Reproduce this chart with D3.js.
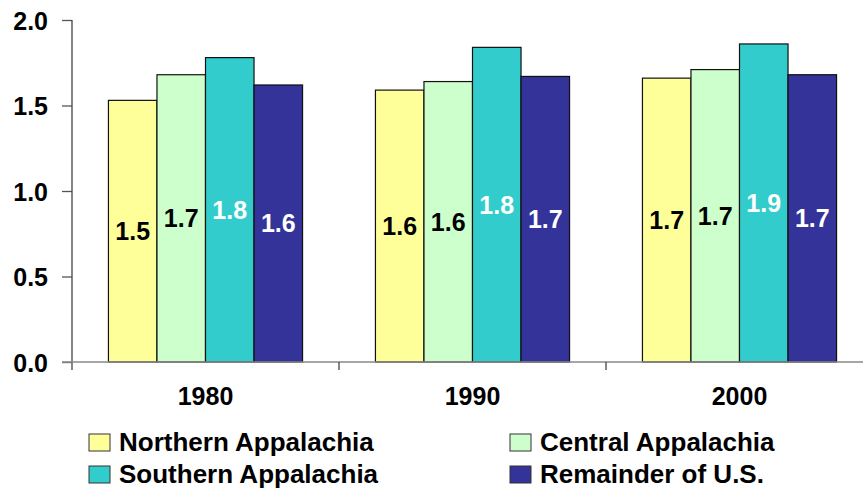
<!DOCTYPE html>
<html lang="en">
<head>
<meta charset="utf-8">
<script src="https://d3js.org/d3.v7.min.js"></script>
<style>
  body { margin: 0; background: #fff; }
  text { font-family: "Liberation Sans", Arial, sans-serif; font-weight: bold; }
</style>
</head>
<body>
<script>
// data
var years = ["1980", "1990", "2000"];
var seriesNames = ["Northern Appalachia", "Central Appalachia", "Southern Appalachia", "Remainder of U.S."];
var northern = [1.53, 1.59, 1.66];
var central = [1.68, 1.64, 1.71];
var southern = [1.78, 1.84, 1.86];
var remainder = [1.62, 1.67, 1.68];
var yTicks = [0, 0.5, 1.0, 1.5, 2.0];

var colors = ["#FFFF99", "#CCFFCC", "#33CCCC", "#333399"];
var labelColors = ["#000", "#000", "#fff", "#fff"];
var allSeries = [northern, central, southern, remainder];

var width = 863, height = 491;
var svg = d3.select("body").append("svg")
  .attr("width", width)
  .attr("height", height);

// scales
var y = d3.scaleLinear().domain([0, 2]).range([362, 20]);
var x = d3.scaleBand().domain(years).range([72, 873])
  .paddingInner(0.273).paddingOuter(0.1365);
var x1 = d3.scaleBand().domain(d3.range(4)).range([0, x.bandwidth()]);

// y axis
var yAxis = svg.append("g").attr("transform", "translate(72,0)")
  .call(d3.axisLeft(y).tickValues(yTicks).tickFormat(d3.format(".1f")).tickSize(10).tickPadding(14));
yAxis.select(".domain").remove();
yAxis.selectAll(".tick line").attr("stroke", "#555").attr("stroke-width", 1.3);
yAxis.selectAll(".tick text").attr("font-size", 25).attr("fill", "#000")
  .attr("font-family", "Liberation Sans, Arial, sans-serif").attr("dy", "0.36em");

// bars
var groups = svg.selectAll("g.year").data(years).enter().append("g")
  .attr("class", "year")
  .attr("transform", function(d) { return "translate(" + x(d) + ",0)"; });

groups.each(function(yr, i) {
  var g = d3.select(this);
  allSeries.forEach(function(s, k) {
    g.append("rect")
      .attr("x", x1(k))
      .attr("y", y(s[i]))
      .attr("width", x1.bandwidth())
      .attr("height", y(0) - y(s[i]))
      .attr("fill", colors[k])
      .attr("stroke", "#111")
      .attr("stroke-width", 1.2);
  });
  allSeries.forEach(function(s, k) {
    g.append("text")
      .attr("x", x1(k) + x1.bandwidth() / 2)
      .attr("y", (y(s[i]) + y(0)) / 2)
      .attr("dy", "0.36em")
      .attr("text-anchor", "middle")
      .attr("font-size", 25)
      .attr("fill", labelColors[k])
      .text(s[i].toFixed(1));
  });
});

// axis lines
svg.append("line").attr("x1", 72).attr("x2", 72).attr("y1", 20).attr("y2", 370)
  .attr("stroke", "#444").attr("stroke-width", 1.3);
svg.append("line").attr("x1", 62).attr("x2", width).attr("y1", y(0)).attr("y2", y(0))
  .attr("stroke", "#888").attr("stroke-width", 1.6);

var gap = (x.step() - x.bandwidth()) / 2;
years.slice(1).forEach(function(yr) {
  var bx = x(yr) - gap;
  svg.append("line").attr("x1", bx).attr("x2", bx).attr("y1", y(0)).attr("y2", 370)
    .attr("stroke", "#444").attr("stroke-width", 1.3);
});

// year labels
svg.selectAll("text.yr").data(years).enter().append("text")
  .attr("class", "yr")
  .attr("x", function(d) { return x(d) + x.bandwidth() / 2; })
  .attr("y", 405)
  .attr("text-anchor", "middle")
  .attr("font-size", 25)
  .text(function(d) { return d; });

// legend
var legendPos = [[89, 434], [510, 434], [89, 466], [510, 466]];
seriesNames.forEach(function(name, k) {
  var p = legendPos[k];
  svg.append("rect").attr("x", p[0]).attr("y", p[1]).attr("width", 21).attr("height", 17)
    .attr("fill", colors[k]).attr("stroke", "#333").attr("stroke-width", 1);
  svg.append("text").attr("x", p[0] + 30).attr("y", p[1] + 17)
    .attr("font-size", 26).text(name);
});
</script>
</body>
</html>
